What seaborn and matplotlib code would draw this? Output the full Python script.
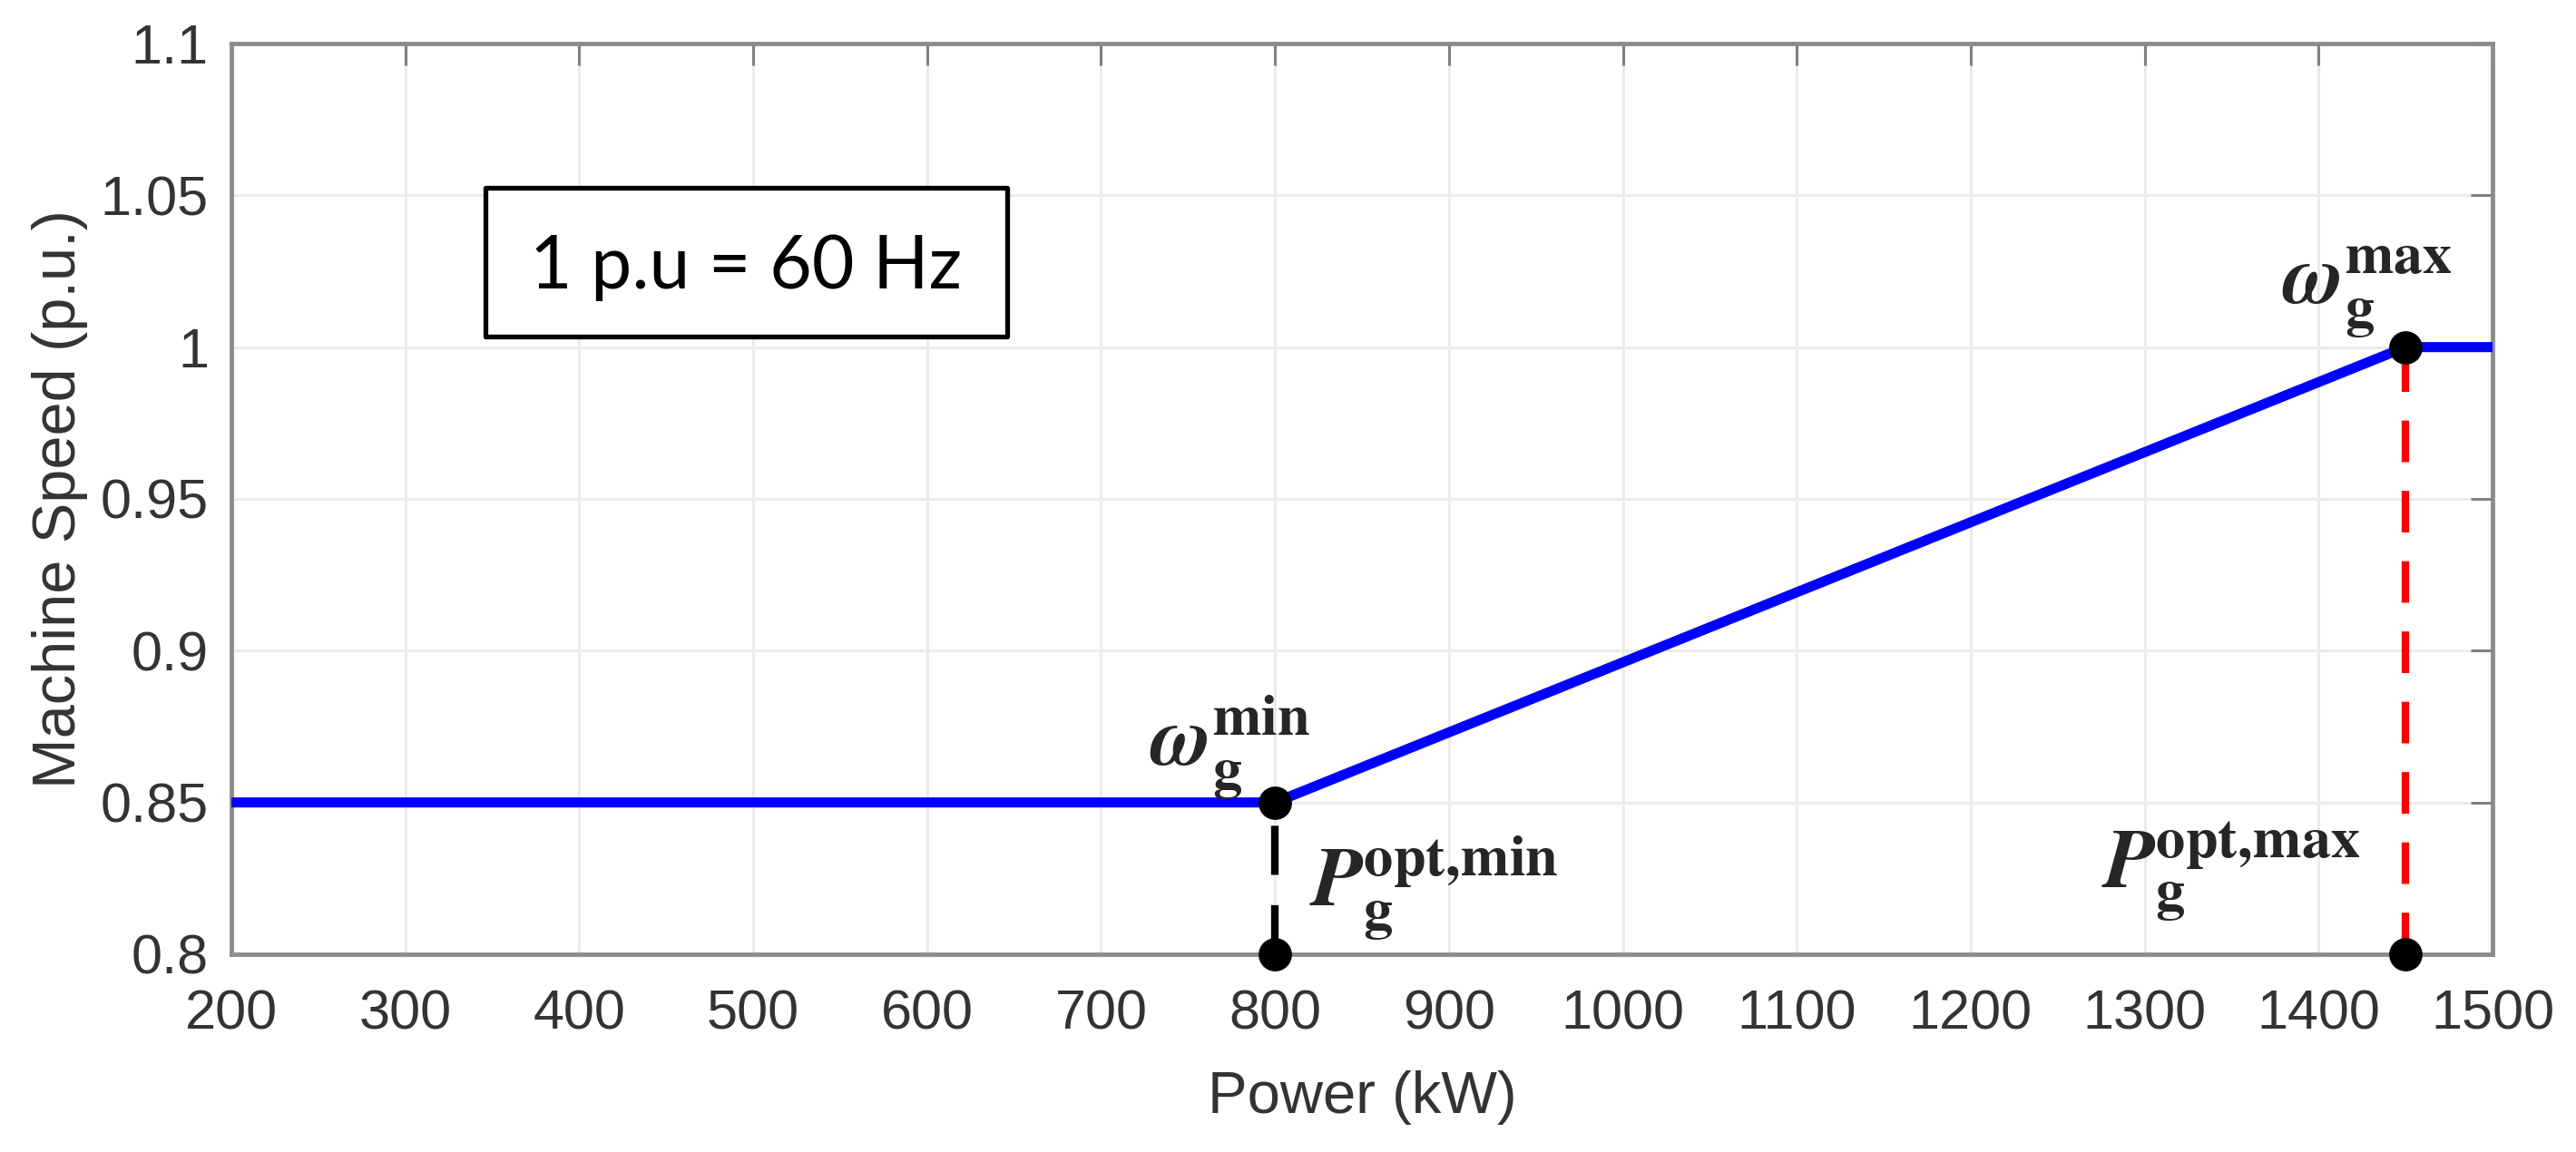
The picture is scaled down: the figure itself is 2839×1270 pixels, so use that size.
import numpy as np
import pandas as pd
import matplotlib
matplotlib.use('Agg')
import matplotlib.pyplot as plt
from matplotlib.patches import Rectangle
import seaborn as sns

# speed curve break points
power_kw = [200, 800, 1450, 1500]
speed_pu = [0.85, 0.85, 1.0, 1.0]

# marked points
mark_power = [800, 800, 1450, 1450]
mark_speed = [0.85, 0.8, 1.0, 0.8]

x_ticks = [200, 300, 400, 500, 600, 700, 800, 900, 1000, 1100, 1200, 1300, 1400, 1500]
y_ticks = [0.8, 0.85, 0.9, 0.95, 1.0, 1.05, 1.1]
y_tick_labels = ['0.8', '0.85', '0.9', '0.95', '1', '1.05', '1.1']

note_text = '1 p.u = 60 Hz'
labels_math = [r'$\mathbfit{\omega}_{\mathbf{g}}^{\mathbf{min}}$',
               r'$\mathbfit{P}_{\mathbf{g}}^{\mathbf{opt,\!min}}$',
               r'$\mathbfit{\omega}_{\mathbf{g}}^{\mathbf{max}}$',
               r'$\mathbfit{P}_{\mathbf{g}}^{\mathbf{opt,\!max}}$']

sns.set_theme(style='whitegrid')
plt.rcParams['font.family'] = ['Liberation Sans', 'DejaVu Sans']
plt.rcParams['mathtext.fontset'] = 'stix'

fig, ax = plt.subplots(figsize=(28.39, 12.70), dpi=100)
fig.subplots_adjust(left=0.0898, right=0.9676, top=0.9622, bottom=0.1717)

curve = pd.DataFrame({'Power': power_kw, 'Speed': speed_pu})
sns.lineplot(data=curve, x='Power', y='Speed', color='#0000ff', lw=8, ax=ax, zorder=3)

# vertical guides
ax.plot([mark_power[1], mark_power[0]], [mark_speed[1], mark_speed[0]], color='black',
        lw=6, ls=(0, (6.5, 4)), zorder=2)
ax.plot([mark_power[3], mark_power[2]], [mark_speed[3], mark_speed[2]], color='#ff0000',
        lw=6, ls=(0, (5.5, 3.8)), zorder=2)

pts = pd.DataFrame({'Power': mark_power, 'Speed': mark_speed})
sns.scatterplot(data=pts, x='Power', y='Speed', color='black', s=600, edgecolor='black',
                ax=ax, zorder=5, clip_on=False)

# annotations (left edge, baseline)
ax.text(728, 0.8624, labels_math[0], fontsize=66, ha='left', va='baseline', zorder=6)
ax.text(820, 0.8160, labels_math[1], fontsize=66, ha='left', va='baseline', zorder=6)
ax.text(1379, 1.0144, labels_math[2], fontsize=66, ha='left', va='baseline', zorder=6)
ax.text(1275, 0.8221, labels_math[3], fontsize=66, ha='left', va='baseline', zorder=6)

# note box
ax.add_patch(Rectangle((346, 1.0035), 300, 0.049, fc='white', ec='black', lw=3.8,
                       joinstyle='round', zorder=6))
ax.text(496, 1.0193, note_text, fontsize=58, family=['Lato', 'DejaVu Sans'],
        ha='center', va='baseline', color='black', zorder=7)

ax.set_xlim(200, 1500)
ax.set_ylim(0.8, 1.1)
ax.set_xticks(x_ticks)
ax.set_yticks(y_ticks)
ax.set_yticklabels(y_tick_labels)
ax.set_xlabel('Power (kW)', fontsize=47, color='#333333')
ax.set_ylabel('Machine Speed (p.u.)', fontsize=48, color='#333333')
ax.xaxis.set_label_coords(0.5, -0.1275)
ax.yaxis.set_label_coords(-0.0634, 0.5)
ax.tick_params(axis='both', labelsize=44, labelcolor='#333333', direction='in',
               length=17, width=2.2, color='#808080', top=True, right=True)
ax.tick_params(axis='x', pad=28)
ax.tick_params(axis='y', pad=18)
ax.grid(True, color='#ebebeb', lw=2.2)
for sp in ax.spines.values():
    sp.set_color('#8c8c8c')
    sp.set_linewidth(3.5)
    sp.set_visible(True)

fig.savefig('out.png', dpi=100, facecolor='white')
